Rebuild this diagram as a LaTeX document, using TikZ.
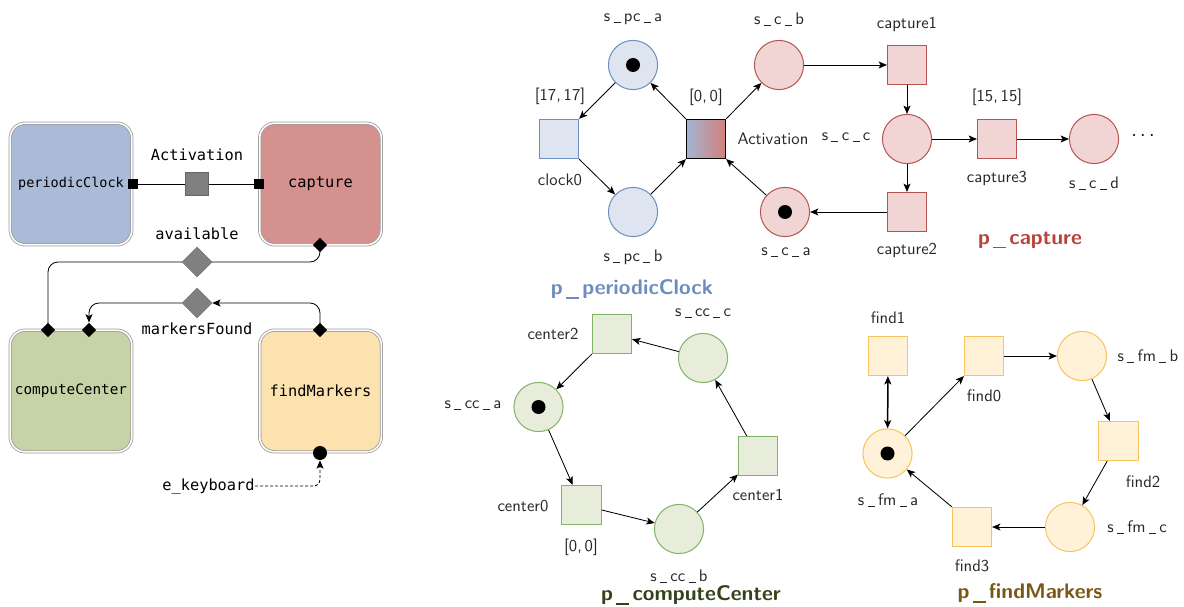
\documentclass[tikz,border=0pt]{standalone}
\usepackage{fontspec}
\newfontfamily\monof{DejaVu Sans Mono}
\usetikzlibrary{arrows.meta,shapes.geometric}
\pgfdeclarelayer{bg}
\pgfsetlayers{bg,main}
\definecolor{pcF}{HTML}{A9BBD7}
\definecolor{capF}{HTML}{D4918E}
\definecolor{ccF}{HTML}{C5D3A6}
\definecolor{fmF}{HTML}{FCE2AF}
\definecolor{bS}{HTML}{6C8EBF}
\definecolor{bF}{HTML}{DFE5F0}
\definecolor{rS}{HTML}{B85450}
\definecolor{rF}{HTML}{F0D5D4}
\definecolor{gS}{HTML}{82B366}
\definecolor{gF}{HTML}{E7EDDA}
\definecolor{oS}{HTML}{F7C45E}
\definecolor{oF}{HTML}{FFF2D9}
\definecolor{gT}{HTML}{34421A}
\definecolor{oT}{HTML}{7A5716}
\definecolor{rT}{HTML}{B8423D}
\definecolor{actL}{HTML}{A3B5D4}
\definecolor{actR}{HTML}{D47F7A}
\newcommand{\us}{\kern0.2em\rule[-0.08em]{0.42em}{0.05em}\kern0.2em}
\newcommand{\tus}{\kern0.16em\rule[-0.2em]{0.6em}{0.075em}\kern0.16em}
\tikzset{
  lbox/.style={rectangle, rounded corners=9pt, minimum size=73pt, inner sep=0pt,
    draw=black!40, double=white!75!black!5, double distance=1pt, line width=0.45pt,
    font=\monof\fontsize{9.2}{11}\selectfont},
  mono/.style={font=\monof\fontsize{9.2}{11}\selectfont, inner sep=0pt},
  sqm/.style={rectangle, fill=black, minimum size=6pt, inner sep=0pt},
  dmark/.style={diamond, fill=black, minimum size=8.6pt, inner sep=0pt},
  gdia/.style={diamond, fill=black!50, draw=black!55, line width=0.3pt, minimum size=18pt, inner sep=0pt},
  gsq/.style={rectangle, fill=black!50, draw=black!60, line width=0.3pt, minimum size=13.8pt, inner sep=0pt},
  place/.style={circle, minimum size=29.5pt, inner sep=0pt, line width=0.6pt},
  trans/.style={rectangle, minimum size=23.5pt, inner sep=0pt, line width=0.6pt},
  tok/.style={circle, fill=black, minimum size=8.4pt, inner sep=0pt},
  lab/.style={font=\sffamily\fontsize{10}{12}\selectfont, inner sep=0pt, text=black!85},
  ttl/.style={font=\sffamily\bfseries\fontsize{12.7}{15}\selectfont, inner sep=0pt},
  arr/.style={-{Stealth[length=5pt,width=4.2pt,inset=1.2pt]}, line width=0.5pt},
  conn/.style={line width=0.5pt},
}
\begin{document}
\begin{tikzpicture}[x=0.6pt,y=-0.6pt]
\useasboundingbox (0,0) rectangle (1184,607);
% ---------------- left diagram ----------------
\node[lbox, fill=pcF, font=\monof\fontsize{8.1}{10}\selectfont] (pc) at (71,184) {periodicClock};
\node[lbox, fill=capF] (cap) at (320.5,184) {capture};
\node[lbox, fill=ccF, font=\monof\fontsize{8.6}{10}\selectfont] (cc) at (71,391) {computeCenter};
\node[lbox, fill=fmF] (fm) at (320.5,391) {findMarkers};
\node[sqm] (pcport) at (133,184) {};
\node[sqm] (capport) at (259,184) {};
\node[gsq] (act) at (197,184) {};
\node[mono] (actl) at (197,155) {Activation};
\node[dmark] (capav) at (320,245) {};
\node[dmark] (ccav) at (48,330) {};
\node[gdia] (avail) at (197,262) {};
\node[mono] (availl) at (197,234) {available};
\node[dmark] (fmmf) at (320,330) {};
\node[dmark] (ccmf) at (89,330) {};
\node[gdia] (mf) at (197,303) {};
\node[mono] (mfl) at (197,329) {markersFound};
\node[circle, fill=black, minimum size=8.4pt, inner sep=0pt] (kb) at (320,453) {};
\node[mono, anchor=east] (ek) at (255,486) {e\_keyboard};
\begin{pgfonlayer}{bg}
\draw[conn] (pcport) -- (act) -- (capport);
\draw[conn, rounded corners=6pt] (capav.center) |- (ccav.center |- avail.center) -- (ccav.center);
\end{pgfonlayer}
\draw[arr, rounded corners=6pt] (fmmf.center) |- (mf.east);
\draw[arr, rounded corners=6pt] (mf.west) -| (ccmf.north);
\draw[arr, dash pattern=on 1.8pt off 1.2pt, rounded corners=4pt] (ek.east) -| (kb.south);
% ---------------- p_periodicClock + p_capture ----------------
\node[place, draw=bS, fill=bF] (spca) at (633,65) {};
\node[tok] (tspca) at (spca) {};
\node[place, draw=bS, fill=bF] (spcb) at (633,212) {};
\node[trans, draw=bS, fill=bF] (clock0) at (559,139) {};
\node[trans, draw=black, left color=actL, right color=actR] (actT) at (706,139) {};
\node[place, draw=rS, fill=rF] (scb) at (779,65) {};
\node[place, draw=rS, fill=rF] (sca) at (785,212) {};
\node[tok] (tsca) at (sca) {};
\node[trans, draw=rS, fill=rF] (cap1) at (907,65) {};
\node[place, draw=rS, fill=rF] (scc) at (907,139) {};
\node[trans, draw=rS, fill=rF] (cap2) at (907,212) {};
\node[trans, draw=rS, fill=rF] (cap3) at (997,139) {};
\node[place, draw=rS, fill=rF] (scd) at (1094,139) {};
\node[inner sep=0pt, font=\fontsize{13}{15}\selectfont] (dots) at (1143,136) {$\cdots$};
\draw[arr] (spca) -- (clock0.north east);
\draw[arr] (clock0.south east) -- (spcb);
\draw[arr] (spcb) -- (actT.south west);
\draw[arr] (actT.north west) -- (spca);
\draw[arr] (actT.north east) -- (scb);
\draw[arr] (scb) -- (cap1);
\draw[arr] (cap1) -- (scc);
\draw[arr] (scc) -- (cap2);
\draw[arr] (cap2) -- (sca);
\draw[arr] (sca) -- (actT.south east);
\draw[arr] (scc) -- (cap3);
\draw[arr] (cap3) -- (scd);
\node[lab] (l1) at (633,19) {s\us pc\us a};
\node[lab] (l2) at (633,257) {s\us pc\us b};
\node[lab] (l3) at (560,96) {[17,\,17]};
\node[lab] (l4) at (560,180) {clock0};
\node[lab] (l5) at (706,97) {[0,\,0]};
\node[lab] (l6) at (773,139) {Activation};
\node[lab] (l7) at (779,19) {s\us c\us b};
\node[lab] (l8) at (786,252) {s\us c\us a};
\node[lab] (l9) at (907,24) {capture1};
\node[lab] (l10) at (846,137) {s\us c\us c};
\node[lab] (l11) at (997,97) {[15,\,15]};
\node[lab] (l12) at (997,178) {capture3};
\node[lab] (l13) at (1094,183) {s\us c\us d};
\node[lab] (l14) at (907,250) {capture2};
\node[ttl, text=rT] (t2) at (1030,240) {p\tus capture};
\node[ttl, text=bS] (t1) at (632,289) {p\tus periodicClock};
% ---------------- p_computeCenter ----------------
\node[trans, draw=gS, fill=gF] (c2) at (612,334) {};
\node[place, draw=gS, fill=gF] (scc3) at (703,358) {};
\node[place, draw=gS, fill=gF] (scca) at (538.5,407) {};
\node[tok] (tscca) at (scca) {};
\node[trans, draw=gS, fill=gF] (c0) at (581.5,505) {};
\node[place, draw=gS, fill=gF] (sccb) at (679,529) {};
\node[trans, draw=gS, fill=gF] (c1) at (758,456) {};
\draw[arr] (c2) -- (scca);
\draw[arr] (scca) -- (c0);
\draw[arr] (c0) -- (sccb);
\draw[arr] (sccb) -- (c1);
\draw[arr] (c1) -- (scc3);
\draw[arr] (scc3) -- (c2);
\node[lab] (m1) at (553,334) {center2};
\node[lab] (m2) at (703,313) {s\us cc\us c};
\node[lab] (m3) at (473,405) {s\us cc\us a};
\node[lab] (m4) at (523,506) {center0};
\node[lab] (m5) at (581,547) {[0,\,0]};
\node[lab] (m6) at (758,495) {center1};
\node[lab] (m7) at (679,576) {s\us cc\us b};
\node[ttl, text=gT] (t3) at (691,595) {p\tus computeCenter};
% ---------------- p_findMarkers ----------------
\node[trans, draw=oS, fill=oF] (f1) at (888,356) {};
\node[trans, draw=oS, fill=oF] (f0) at (984,356) {};
\node[place, draw=oS, fill=oF] (sfmb) at (1082,356) {};
\node[trans, draw=oS, fill=oF] (f2) at (1118.5,441) {};
\node[place, draw=oS, fill=oF] (sfmc) at (1070,527) {};
\node[trans, draw=oS, fill=oF] (f3) at (972,527) {};
\node[place, draw=oS, fill=oF] (sfma) at (887.5,453.5) {};
\node[tok] (tsfma) at (sfma) {};
\draw[{Stealth[length=5pt,width=4.2pt,inset=1.2pt]}-{Stealth[length=5pt,width=4.2pt,inset=1.2pt]}, line width=0.9pt] (sfma) -- (f1);
\draw[arr] (sfma) -- (f0.south west);
\draw[arr] (f0) -- (sfmb);
\draw[arr] (sfmb) -- (f2);
\draw[arr] (f2) -- (sfmc);
\draw[arr] (sfmc) -- (f3);
\draw[arr] (f3.north west) -- (sfma);
\node[lab] (n1) at (888,318) {find1};
\node[lab] (n2) at (984,396) {find0};
\node[lab] (n3) at (1148,356) {s\us fm\us b};
\node[lab] (n4) at (1143,482) {find2};
\node[lab] (n5) at (1137,527) {s\us fm\us c};
\node[lab] (n6) at (972,566) {find3};
\node[lab] (n7) at (888,500) {s\us fm\us a};
\node[ttl, text=oT] (t4) at (1030,593) {p\tus findMarkers};
\end{tikzpicture}
\end{document}
